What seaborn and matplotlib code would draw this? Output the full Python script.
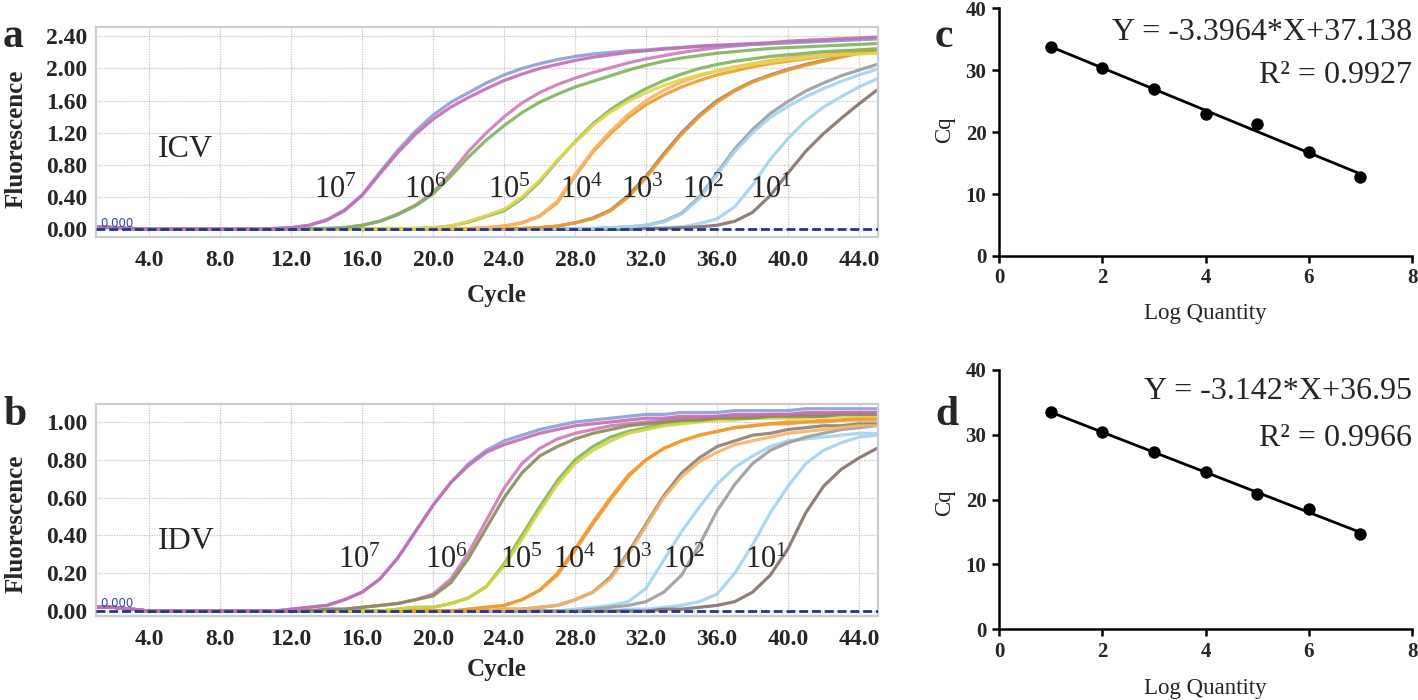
import matplotlib
matplotlib.use("Agg")
import matplotlib.pyplot as plt
from matplotlib.ticker import MultipleLocator, FormatStrFormatter
import numpy as np
import pandas as pd
import seaborn as sns

# ---------------- data ----------------
cycles = list(range(1, 46))

# ICV amplification curves (fluorescence per cycle)
icv_7a = [0.03, 0.02, 0.01, 0.00, 0.00, 0.00, 0.00, 0.00, 0.00, 0.00,
          0.01, 0.02, 0.05, 0.12, 0.24, 0.43, 0.71, 0.98, 1.22, 1.42,
          1.58, 1.70, 1.82, 1.92, 2.00, 2.06, 2.11, 2.15, 2.18, 2.20,
          2.22, 2.23, 2.25, 2.26, 2.27, 2.28, 2.29, 2.30, 2.31, 2.32,
          2.33, 2.34, 2.35, 2.36, 2.37]
icv_7b = [0.03, 0.02, 0.01, 0.00, 0.00, 0.00, 0.00, 0.00, 0.00, 0.00,
          0.01, 0.02, 0.05, 0.11, 0.23, 0.42, 0.69, 0.95, 1.18, 1.37,
          1.52, 1.64, 1.75, 1.85, 1.93, 2.00, 2.05, 2.10, 2.14, 2.17,
          2.20, 2.22, 2.24, 2.26, 2.28, 2.29, 2.30, 2.31, 2.32, 2.34,
          2.35, 2.36, 2.37, 2.38, 2.39]
icv_6a = [0.03, 0.02, 0.01, 0.00, 0.00, 0.00, 0.00, 0.00, 0.00, 0.00,
          0.00, 0.00, 0.01, 0.01, 0.02, 0.05, 0.10, 0.19, 0.30, 0.46,
          0.70, 0.97, 1.20, 1.40, 1.57, 1.70, 1.80, 1.88, 1.95, 2.01,
          2.07, 2.12, 2.16, 2.20, 2.23, 2.26, 2.28, 2.30, 2.31, 2.32,
          2.33, 2.34, 2.35, 2.36, 2.37]
icv_6b = [0.03, 0.02, 0.01, 0.00, 0.00, 0.00, 0.00, 0.00, 0.00, 0.00,
          0.00, 0.00, 0.01, 0.01, 0.02, 0.05, 0.10, 0.18, 0.29, 0.44,
          0.66, 0.90, 1.11, 1.29, 1.45, 1.58, 1.68, 1.77, 1.84, 1.91,
          1.98, 2.04, 2.09, 2.13, 2.16, 2.19, 2.21, 2.23, 2.25, 2.26,
          2.27, 2.28, 2.29, 2.30, 2.31]
icv_5a = [0.03, 0.02, 0.01, 0.00, 0.00, 0.00, 0.00, 0.00, 0.00, 0.00,
          0.00, 0.00, 0.00, 0.00, 0.00, 0.00, 0.01, 0.01, 0.01, 0.02,
          0.04, 0.09, 0.16, 0.23, 0.38, 0.59, 0.85, 1.09, 1.31, 1.49,
          1.63, 1.75, 1.85, 1.93, 2.00, 2.05, 2.09, 2.12, 2.15, 2.17,
          2.19, 2.21, 2.22, 2.23, 2.24]
icv_5b = [0.03, 0.02, 0.01, 0.00, 0.00, 0.00, 0.00, 0.00, 0.00, 0.00,
          0.00, 0.00, 0.00, 0.00, 0.00, 0.00, 0.01, 0.01, 0.01, 0.02,
          0.04, 0.10, 0.17, 0.25, 0.40, 0.61, 0.86, 1.08, 1.29, 1.46,
          1.59, 1.70, 1.79, 1.86, 1.92, 1.97, 2.01, 2.05, 2.08, 2.11,
          2.13, 2.15, 2.17, 2.18, 2.19]
icv_4a = [0.03, 0.02, 0.01, 0.00, 0.00, 0.00, 0.00, 0.00, 0.00, 0.00,
          0.00, 0.00, 0.00, 0.00, 0.00, 0.00, 0.00, 0.00, 0.00, 0.01,
          0.01, 0.01, 0.02, 0.04, 0.08, 0.16, 0.33, 0.66, 0.96, 1.19,
          1.39, 1.55, 1.67, 1.77, 1.85, 1.92, 1.97, 2.02, 2.06, 2.09,
          2.12, 2.15, 2.18, 2.20, 2.22]
icv_4b = [0.03, 0.02, 0.01, 0.00, 0.00, 0.00, 0.00, 0.00, 0.00, 0.00,
          0.00, 0.00, 0.00, 0.00, 0.00, 0.00, 0.00, 0.00, 0.00, 0.01,
          0.01, 0.01, 0.02, 0.04, 0.08, 0.17, 0.35, 0.68, 0.98, 1.22,
          1.43, 1.60, 1.73, 1.83, 1.91, 1.97, 2.02, 2.06, 2.10, 2.13,
          2.16, 2.19, 2.21, 2.23, 2.25]
icv_3a = [0.03, 0.02, 0.01, 0.00, 0.00, 0.00, 0.00, 0.00, 0.00, 0.00,
          0.00, 0.00, 0.00, 0.00, 0.00, 0.00, 0.00, 0.00, 0.00, 0.00,
          0.00, 0.00, 0.01, 0.01, 0.01, 0.02, 0.04, 0.08, 0.14, 0.24,
          0.42, 0.66, 0.94, 1.20, 1.42, 1.60, 1.73, 1.84, 1.92, 1.99,
          2.05, 2.10, 2.15, 2.19, 2.22]
icv_3b = [0.03, 0.02, 0.01, 0.00, 0.00, 0.00, 0.00, 0.00, 0.00, 0.00,
          0.00, 0.00, 0.00, 0.00, 0.00, 0.00, 0.00, 0.00, 0.00, 0.00,
          0.00, 0.00, 0.01, 0.01, 0.01, 0.02, 0.04, 0.08, 0.13, 0.23,
          0.40, 0.64, 0.92, 1.18, 1.40, 1.58, 1.72, 1.83, 1.91, 1.98,
          2.04, 2.09, 2.14, 2.19, 2.23]
icv_2a = [0.03, 0.02, 0.01, 0.00, 0.00, 0.00, 0.00, 0.00, 0.00, 0.00,
          0.00, 0.00, 0.00, 0.00, 0.00, 0.00, 0.00, 0.00, 0.00, 0.00,
          0.00, 0.00, 0.00, 0.00, 0.00, 0.00, 0.01, 0.01, 0.01, 0.02,
          0.03, 0.05, 0.10, 0.20, 0.40, 0.70, 1.00, 1.24, 1.44, 1.59,
          1.72, 1.82, 1.91, 1.98, 2.05]
icv_2b = [0.03, 0.02, 0.01, 0.00, 0.00, 0.00, 0.00, 0.00, 0.00, 0.00,
          0.00, 0.00, 0.00, 0.00, 0.00, 0.00, 0.00, 0.00, 0.00, 0.00,
          0.00, 0.00, 0.00, 0.00, 0.00, 0.00, 0.01, 0.01, 0.01, 0.02,
          0.03, 0.05, 0.09, 0.19, 0.38, 0.68, 0.97, 1.20, 1.39, 1.53,
          1.65, 1.75, 1.84, 1.92, 1.99]
icv_1a = [0.03, 0.02, 0.01, 0.00, 0.00, 0.00, 0.00, 0.00, 0.00, 0.00,
          0.00, 0.00, 0.00, 0.00, 0.00, 0.00, 0.00, 0.00, 0.00, 0.00,
          0.00, 0.00, 0.00, 0.00, 0.00, 0.00, 0.00, 0.00, 0.00, 0.01,
          0.01, 0.01, 0.02, 0.03, 0.07, 0.13, 0.28, 0.55, 0.87, 1.13,
          1.35, 1.52, 1.65, 1.77, 1.87]
icv_1b = [0.03, 0.02, 0.01, 0.00, 0.00, 0.00, 0.00, 0.00, 0.00, 0.00,
          0.00, 0.00, 0.00, 0.00, 0.00, 0.00, 0.00, 0.00, 0.00, 0.00,
          0.00, 0.00, 0.00, 0.00, 0.00, 0.00, 0.00, 0.00, 0.00, 0.00,
          0.00, 0.01, 0.01, 0.02, 0.03, 0.05, 0.10, 0.21, 0.42, 0.70,
          0.97, 1.19, 1.38, 1.56, 1.73]

# IDV amplification curves
idv_7a = [0.02, 0.02, 0.01, 0.00, 0.00, 0.00, 0.00, 0.00, 0.00, 0.00,
          0.00, 0.01, 0.02, 0.03, 0.06, 0.10, 0.17, 0.28, 0.42, 0.56,
          0.68, 0.78, 0.85, 0.90, 0.93, 0.96, 0.98, 1.00, 1.01, 1.02,
          1.03, 1.04, 1.04, 1.05, 1.05, 1.05, 1.06, 1.06, 1.06, 1.06,
          1.07, 1.07, 1.07, 1.07, 1.07]
idv_7b = [0.02, 0.02, 0.01, 0.00, 0.00, 0.00, 0.00, 0.00, 0.00, 0.00,
          0.00, 0.01, 0.02, 0.03, 0.06, 0.10, 0.17, 0.28, 0.42, 0.56,
          0.68, 0.77, 0.84, 0.88, 0.91, 0.94, 0.96, 0.98, 0.99, 1.00,
          1.01, 1.02, 1.02, 1.03, 1.03, 1.03, 1.04, 1.04, 1.04, 1.04,
          1.05, 1.05, 1.05, 1.05, 1.05]
idv_6a = [0.02, 0.02, 0.01, 0.00, 0.00, 0.00, 0.00, 0.00, 0.00, 0.00,
          0.00, 0.00, 0.00, 0.01, 0.01, 0.02, 0.03, 0.04, 0.06, 0.09,
          0.17, 0.31, 0.48, 0.65, 0.78, 0.86, 0.91, 0.94, 0.96, 0.98,
          0.99, 1.00, 1.01, 1.02, 1.02, 1.03, 1.03, 1.03, 1.04, 1.04,
          1.04, 1.04, 1.05, 1.05, 1.05]
idv_6b = [0.02, 0.02, 0.01, 0.00, 0.00, 0.00, 0.00, 0.00, 0.00, 0.00,
          0.00, 0.00, 0.00, 0.01, 0.01, 0.02, 0.03, 0.04, 0.06, 0.08,
          0.15, 0.28, 0.44, 0.60, 0.73, 0.82, 0.87, 0.91, 0.94, 0.96,
          0.98, 0.99, 1.00, 1.01, 1.01, 1.02, 1.02, 1.02, 1.03, 1.03,
          1.03, 1.03, 1.04, 1.04, 1.04]
idv_5a = [0.02, 0.02, 0.01, 0.00, 0.00, 0.00, 0.00, 0.00, 0.00, 0.00,
          0.00, 0.00, 0.00, 0.00, 0.00, 0.00, 0.00, 0.01, 0.02, 0.02,
          0.04, 0.07, 0.13, 0.25, 0.40, 0.55, 0.69, 0.80, 0.87, 0.92,
          0.95, 0.97, 0.99, 1.00, 1.01, 1.02, 1.02, 1.03, 1.03, 1.03,
          1.04, 1.04, 1.04, 1.04, 1.04]
idv_5b = [0.02, 0.02, 0.01, 0.00, 0.00, 0.00, 0.00, 0.00, 0.00, 0.00,
          0.00, 0.00, 0.00, 0.00, 0.00, 0.00, 0.00, 0.01, 0.02, 0.02,
          0.04, 0.07, 0.13, 0.24, 0.38, 0.53, 0.67, 0.78, 0.85, 0.90,
          0.94, 0.96, 0.98, 0.99, 1.00, 1.01, 1.01, 1.02, 1.02, 1.02,
          1.02, 1.03, 1.03, 1.03, 1.03]
idv_4a = [0.02, 0.02, 0.01, 0.00, 0.00, 0.00, 0.00, 0.00, 0.00, 0.00,
          0.00, 0.00, 0.00, 0.00, 0.00, 0.00, 0.00, 0.00, 0.00, 0.00,
          0.00, 0.01, 0.02, 0.03, 0.06, 0.11, 0.19, 0.32, 0.46, 0.59,
          0.71, 0.80, 0.86, 0.90, 0.93, 0.95, 0.97, 0.98, 0.99, 1.00,
          1.00, 1.01, 1.01, 1.02, 1.02]
idv_4b = [0.02, 0.02, 0.01, 0.00, 0.00, 0.00, 0.00, 0.00, 0.00, 0.00,
          0.00, 0.00, 0.00, 0.00, 0.00, 0.00, 0.00, 0.00, 0.00, 0.00,
          0.00, 0.01, 0.02, 0.03, 0.06, 0.11, 0.20, 0.33, 0.47, 0.60,
          0.72, 0.80, 0.86, 0.90, 0.93, 0.95, 0.97, 0.98, 0.99, 0.99,
          1.00, 1.00, 1.01, 1.01, 1.01]
idv_3a = [0.02, 0.02, 0.01, 0.00, 0.00, 0.00, 0.00, 0.00, 0.00, 0.00,
          0.00, 0.00, 0.00, 0.00, 0.00, 0.00, 0.00, 0.00, 0.00, 0.00,
          0.00, 0.00, 0.00, 0.01, 0.01, 0.02, 0.03, 0.06, 0.10, 0.18,
          0.31, 0.46, 0.61, 0.73, 0.81, 0.87, 0.90, 0.93, 0.94, 0.96,
          0.97, 0.98, 0.98, 0.99, 0.99]
idv_3b = [0.02, 0.02, 0.01, 0.00, 0.00, 0.00, 0.00, 0.00, 0.00, 0.00,
          0.00, 0.00, 0.00, 0.00, 0.00, 0.00, 0.00, 0.00, 0.00, 0.00,
          0.00, 0.00, 0.00, 0.01, 0.01, 0.02, 0.03, 0.06, 0.10, 0.17,
          0.30, 0.45, 0.60, 0.71, 0.79, 0.84, 0.88, 0.90, 0.92, 0.94,
          0.95, 0.96, 0.97, 0.98, 0.98]
idv_2a = [0.02, 0.02, 0.01, 0.00, 0.00, 0.00, 0.00, 0.00, 0.00, 0.00,
          0.00, 0.00, 0.00, 0.00, 0.00, 0.00, 0.00, 0.00, 0.00, 0.00,
          0.00, 0.00, 0.00, 0.00, 0.00, 0.00, 0.00, 0.01, 0.02, 0.03,
          0.05, 0.12, 0.27, 0.42, 0.55, 0.67, 0.76, 0.82, 0.87, 0.90,
          0.91, 0.92, 0.93, 0.94, 0.94]
idv_2b = [0.02, 0.02, 0.01, 0.00, 0.00, 0.00, 0.00, 0.00, 0.00, 0.00,
          0.00, 0.00, 0.00, 0.00, 0.00, 0.00, 0.00, 0.00, 0.00, 0.00,
          0.00, 0.00, 0.00, 0.00, 0.00, 0.00, 0.00, 0.00, 0.01, 0.02,
          0.03, 0.05, 0.10, 0.19, 0.35, 0.53, 0.67, 0.78, 0.85, 0.89,
          0.92, 0.94, 0.96, 0.97, 0.98]
idv_1a = [0.02, 0.02, 0.01, 0.00, 0.00, 0.00, 0.00, 0.00, 0.00, 0.00,
          0.00, 0.00, 0.00, 0.00, 0.00, 0.00, 0.00, 0.00, 0.00, 0.00,
          0.00, 0.00, 0.00, 0.00, 0.00, 0.00, 0.00, 0.00, 0.00, 0.00,
          0.01, 0.01, 0.02, 0.03, 0.05, 0.09, 0.20, 0.35, 0.52, 0.66,
          0.78, 0.85, 0.89, 0.92, 0.93]
idv_1b = [0.02, 0.02, 0.01, 0.00, 0.00, 0.00, 0.00, 0.00, 0.00, 0.00,
          0.00, 0.00, 0.00, 0.00, 0.00, 0.00, 0.00, 0.00, 0.00, 0.00,
          0.00, 0.00, 0.00, 0.00, 0.00, 0.00, 0.00, 0.00, 0.00, 0.00,
          0.00, 0.00, 0.01, 0.01, 0.02, 0.03, 0.05, 0.10, 0.19, 0.33,
          0.52, 0.66, 0.75, 0.81, 0.86]

dilution_labels = [r"$10^{1}$", r"$10^{2}$", r"$10^{3}$", r"$10^{4}$",
                   r"$10^{5}$", r"$10^{6}$", r"$10^{7}$"]

# standard curves
log_qty = [1, 2, 3, 4, 5, 6, 7]
cq_icv = [33.8, 30.3, 26.9, 22.9, 21.3, 16.8, 12.7]
cq_idv = [33.5, 30.4, 27.4, 24.2, 20.8, 18.6, 14.7]
eq_icv = ["Y = -3.3964*X+37.138", "R² = 0.9927"]
eq_idv = ["Y = -3.142*X+36.95", "R² = 0.9966"]

# well colours (CFX-style)
c_lav, c_mag, c_pink = "#8d9ed6", "#c46db5", "#d07ab8"
c_green, c_olive, c_yellow = "#7db55a", "#8b8a5c", "#e2d64a"
c_orange, c_lorange = "#f29b2f", "#f6b566"
c_gbrown, c_gray, c_lblue, c_brown = "#8c7f77", "#9c9c9c", "#a2d4ef", "#85726a"

icv_wells = [("1a", icv_1a, c_lblue), ("1b", icv_1b, c_brown),
             ("2a", icv_2a, c_gray), ("2b", icv_2b, c_lblue),
             ("3a", icv_3a, c_gbrown), ("3b", icv_3b, c_orange),
             ("4a", icv_4a, c_orange), ("4b", icv_4b, c_lorange),
             ("5a", icv_5a, c_green), ("5b", icv_5b, c_yellow),
             ("6a", icv_6a, c_pink), ("6b", icv_6b, c_green),
             ("7a", icv_7a, c_lav), ("7b", icv_7b, c_mag)]
idv_wells = [("1a", idv_1a, c_lblue), ("1b", idv_1b, c_brown),
             ("2a", idv_2a, c_lblue), ("2b", idv_2b, c_gray),
             ("3a", idv_3a, c_gbrown), ("3b", idv_3b, c_lorange),
             ("4a", idv_4a, c_orange), ("4b", idv_4b, c_orange),
             ("5a", idv_5a, c_green), ("5b", idv_5b, "#d2d43e"),
             ("6a", idv_6a, c_pink), ("6b", idv_6b, c_olive),
             ("7a", idv_7a, c_lav), ("7b", idv_7b, c_mag)]


def long_df(wells):
    frames = []
    for name, vals, _ in wells:
        frames.append(pd.DataFrame({"cycle": cycles, "fluor": vals, "well": name}))
    return pd.concat(frames, ignore_index=True)


# ---------------- style ----------------
sns.set_style("white")
plt.rcParams["font.family"] = ["Liberation Serif", "DejaVu Sans"]
plt.rcParams["mathtext.fontset"] = "custom"
plt.rcParams["mathtext.rm"] = "Liberation Serif"
plt.rcParams["mathtext.it"] = "Liberation Serif:italic"
plt.rcParams["mathtext.bf"] = "Liberation Serif:bold"

W, H = 1418, 700
fig = plt.figure(figsize=(W / 100, H / 100), dpi=100)


def px_axes(left, top, right, bottom):
    return fig.add_axes([left / W, 1 - bottom / H, (right - left) / W, (bottom - top) / H])


ax_a = px_axes(96, 27, 878, 237)
ax_b = px_axes(96, 404, 878, 616)
ax_c = px_axes(999, 8.3, 1412, 256)
ax_d = px_axes(999, 370, 1412, 629.3)


def amp_panel(ax, wells, ylim, ymajor, name, name_y, lab_x, lab_y, zero_y, ylab_y, xlab_y):
    df = long_df(wells)
    pal = {n: c for n, _, c in wells}
    sns.lineplot(data=df, x="cycle", y="fluor", hue="well", palette=pal,
                 hue_order=[n for n, _, _ in wells], legend=False,
                 estimator=None, sort=False, lw=2.3, alpha=0.9, ax=ax)
    ax.axhline(0, color="#23358f", lw=2.0, ls=(0, (3.2, 1.4)), zorder=6)
    ax.set_xlim(1.0, 45.07)
    ax.set_ylim(*ylim)
    ax.xaxis.set_major_locator(MultipleLocator(4))
    ax.xaxis.set_minor_locator(MultipleLocator(1))
    ax.xaxis.set_major_formatter(FormatStrFormatter("%.1f"))
    ax.yaxis.set_major_locator(MultipleLocator(ymajor))
    ax.yaxis.set_minor_locator(MultipleLocator(0.1))
    ax.yaxis.set_major_formatter(FormatStrFormatter("%.2f"))
    ax.grid(which="major", color="#c4c4c4", ls=(0, (1, 1)), lw=0.9)
    for sp in ax.spines.values():
        sp.set_color("#c9cdd5")
        sp.set_linewidth(1.6)
    ax.tick_params(which="both", direction="out", color="#a8a8a8", width=0.8)
    ax.tick_params(which="major", length=4.5, labelsize=17)
    ax.tick_params(which="minor", length=2.5)
    ax.tick_params(axis="x", which="major", pad=5)
    ax.tick_params(axis="y", which="major", pad=2)
    plt.setp(ax.get_xticklabels() + ax.get_yticklabels(), fontweight="bold")
    ax.set_xlabel("Cycle", fontsize=18, fontweight="bold")
    ax.set_ylabel("Fluorescence", fontsize=18, fontweight="bold")
    ax.xaxis.set_label_coords(0.513, xlab_y)
    ax.yaxis.set_label_coords(-0.087, ylab_y)
    ax.text(4.49, name_y, name, fontsize=23, ha="left", va="baseline")
    for x, lab in zip(lab_x, dilution_labels):
        ax.text(x, lab_y, lab, fontsize=22, ha="left", va="baseline", zorder=7)
    ax.text(1.26, zero_y, "0.000", fontsize=8.5, color="#2a44b8",
            family="DejaVu Sans", ha="left", va="baseline", zorder=7)


amp_panel(ax_a, icv_wells, (-0.096, 2.516), 0.4, "ICV", 0.90,
          [37.85, 34.0, 30.6, 27.14, 23.1, 18.35, 13.28], 0.386, 0.03, 0.467, -0.225)
amp_panel(ax_b, idv_wells, (-0.026, 1.095), 0.2, "IDV", 0.326,
          [37.56, 32.96, 29.96, 26.76, 23.76, 19.54, 14.65], 0.226, 0.023, 0.434, -0.2)


def std_panel(ax, cq, eq, eq_y, ylab_y, xlab_y):
    sns.regplot(x=log_qty, y=cq, ci=None, truncate=True, ax=ax,
                scatter_kws=dict(s=80, color="black", zorder=3, linewidths=0, alpha=1),
                line_kws=dict(color="black", lw=2.0))
    ax.set_xlim(0, 8)
    ax.set_ylim(0, 40)
    ax.set_xticks([0, 2, 4, 6, 8])
    ax.set_yticks([0, 10, 20, 30, 40])
    for side in ["top", "right"]:
        ax.spines[side].set_visible(False)
    for side in ["left", "bottom"]:
        ax.spines[side].set_color("black")
        ax.spines[side].set_linewidth(1.8)
    ax.tick_params(direction="out", length=5, width=1.8, color="black",
                   labelsize=15, pad=4, left=True, bottom=True)
    plt.setp(ax.get_xticklabels() + ax.get_yticklabels(), fontweight="bold")
    ax.set_xlabel("Log Quantity", fontsize=16.5)
    ax.set_ylabel("Cq", fontsize=16.5)
    ax.xaxis.set_label_coords(0.5, xlab_y)
    ax.yaxis.set_label_coords(-0.107, ylab_y)
    ax.text(1.0, eq_y[0], eq[0], transform=ax.transAxes, fontsize=23,
            ha="right", va="baseline")
    ax.text(1.0, eq_y[1], eq[1], transform=ax.transAxes, fontsize=23,
            ha="right", va="baseline")


std_panel(ax_c, cq_icv, eq_icv, (0.872, 0.698), 0.509, -0.19)
std_panel(ax_d, cq_idv, eq_idv, (0.888, 0.707), 0.49, -0.188)

for tag, x, y in [("a", 3, 47), ("b", 3, 425), ("c", 935, 47), ("d", 935, 425)]:
    fig.text(x / W, 1 - y / H, tag, fontsize=30, fontweight="bold",
             ha="left", va="baseline")

fig.savefig("out.png", dpi=100)
